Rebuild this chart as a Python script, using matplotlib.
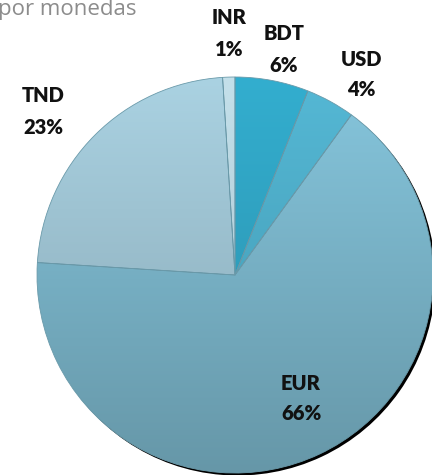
import matplotlib
matplotlib.use("Agg")
import matplotlib.pyplot as plt
import numpy as np
from matplotlib.colors import LinearSegmentedColormap

labels = ["BDT", "USD", "EUR", "TND", "INR"]
values = [6, 4, 66, 23, 1]
top_colors = ["#33aecf", "#55b8d5", "#86c6dd", "#aad2e2", "#c4e0ea"]
bot_colors = ["#2a8ea9", "#3f96ae", "#6697a8", "#86a5b2", "#a3c0cb"]
label_pos = [(284, 442, 410), (361, 415, 385), (301, 92, 62), (43, 380, 347), (229, 457, 425)]

W, H = 432, 475
fig = plt.figure(figsize=(W / 100, H / 100), dpi=100)
ax = fig.add_axes([0, 0, 1, 1])

cx, cy, r = 235, 200, 198

# shadow
shadow, _ = ax.pie(values, startangle=90, counterclock=False, radius=r,
                   center=(cx + 2.5, cy - 2.5), colors=["#000000"] * len(values),
                   wedgeprops=dict(linewidth=0), frame=True)
wedges, _ = ax.pie(values, startangle=90, counterclock=False, radius=r,
                   center=(cx, cy), colors=top_colors,
                   wedgeprops=dict(linewidth=0.6, edgecolor="#6a9aaa"), frame=True)
ax.set_xlim(0, W)
ax.set_ylim(0, H)
ax.axis("off")

grad = np.linspace(0, 1, 256).reshape(-1, 1)
for w, tc, bc in zip(wedges, top_colors, bot_colors):
    cmap = LinearSegmentedColormap.from_list("g", [tc, bc])
    im = ax.imshow(grad, cmap=cmap, extent=(cx - r, cx + r, cy - r, cy + r),
                   origin="upper", aspect="auto", zorder=w.get_zorder() + 0.1)
    im.set_clip_path(w)
    w.set_facecolor("none")
    w.set_zorder(w.get_zorder() + 0.2)
ax.set_xlim(0, W)
ax.set_ylim(0, H)

fam = ["Lato", "DejaVu Sans"]
for lab, v, (x, y1, y2) in zip(labels, values, label_pos):
    ax.text(x, y1, lab, ha="center", va="center", fontsize=14.5,
            fontweight="heavy", family=fam, color="#111111")
    ax.text(x, y2, f"{v}%", ha="center", va="center", fontsize=14.5,
            fontweight="heavy", family=fam, color="#111111")

ax.text(-2, 466, "por monedas", ha="left", va="center", fontsize=16,
        family=["Open Sans", "DejaVu Sans"], color="#8c8c8c")

fig.savefig("out.png", dpi=100)
